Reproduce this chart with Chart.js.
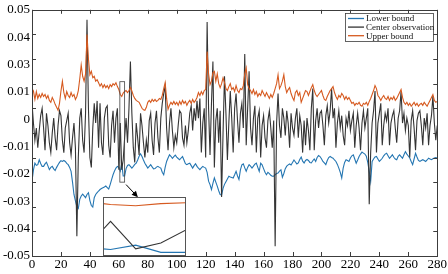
<!DOCTYPE html>
<html>
<head>
<meta charset="utf-8">
<script src="https://cdn.jsdelivr.net/npm/chart.js@4"></script>
<style>
  body { margin: 0; background: #fff; }
  #wrap { position: relative; width: 448px; height: 274px; }
  #inset { position: absolute; left: 103px; top: 197px; }
</style>
</head>
<body>
<div id="wrap">
  <canvas id="chart" width="448" height="274"></canvas>
  <canvas id="inset" width="83" height="59"></canvas>
</div>
<script>
// series, one value per time step 0..280
const lowerBound = [-.0196,-.015,-.0123,-.0132,-.0129,-.0109,-.0124,-.0136,-.0136,-.0126,
  -.0119,-.0134,-.0149,-.014,-.0136,-.0146,-.0153,-.014,-.0129,-.012,
  -.0113,-.0116,-.0112,-.0116,-.0124,-.0129,-.014,-.0156,-.02,-.025,
  -.0276,-.03,-.0307,-.027,-.0256,-.0249,-.0256,-.0263,-.025,-.0243,
  -.0275,-.0295,-.0301,-.0263,-.025,-.0243,-.0236,-.023,-.0226,-.0223,
  -.022,-.0216,-.0222,-.0228,-.021,-.019,-.017,-.0155,-.0143,-.0136,
  -.014,-.0155,-.0125,-.0175,-.0175,-.0145,-.0132,-.0129,-.0136,-.0143,
  -.0136,-.0128,-.0123,-.011,-.0095,-.0085,-.0096,-.011,-.0123,-.0133,
  -.0143,-.0136,-.0129,-.0138,-.0146,-.0145,-.0139,-.0136,-.014,-.0143,
  -.016,-.017,-.014,-.0116,-.0102,-.0089,-.0095,-.0103,-.0096,-.009,
  -.0098,-.0104,-.0109,-.0102,-.0096,-.011,-.0125,-.0129,-.0125,-.0123,
  -.0133,-.0143,-.0133,-.0125,-.0136,-.0143,-.0149,-.0142,-.0136,-.014,
  -.0143,-.016,-.0196,-.021,-.023,-.0205,-.0183,-.02,-.0216,-.0235,
  -.025,-.0252,-.0225,-.0209,-.0198,-.0187,-.0176,-.0179,-.0181,-.0183,
  -.017,-.0156,-.0175,-.0189,-.015,-.013,-.0126,-.0142,-.0156,-.014,
  -.0129,-.0135,-.0143,-.0135,-.0127,-.0123,-.014,-.0156,-.0123,-.013,
  -.0145,-.016,-.017,-.016,-.0165,-.0172,-.0176,-.0176,-.017,-.0165,
  -.0163,-.0155,-.015,-.018,-.0165,-.0145,-.0135,-.013,-.0126,-.013,
  -.012,-.011,-.0118,-.0126,-.0122,-.0108,-.0098,-.0115,-.0122,-.0112,
  -.0108,-.0112,-.012,-.0122,-.0113,-.0106,-.0116,-.01,-.0092,-.0096,
  -.0105,-.0116,-.0122,-.0129,-.0112,-.01,-.0096,-.01,-.0103,-.011,
  -.0116,-.0128,-.0143,-.016,-.0183,-.0143,-.012,-.0109,-.0112,-.0116,
  -.0102,-.0093,-.0089,-.0106,-.0123,-.011,-.0096,-.0086,-.0078,-.0082,
  -.0086,-.0095,-.012,-.0156,-.0196,-.0116,-.0106,-.0098,-.0096,-.0106,
  -.0116,-.011,-.0103,-.0093,-.0086,-.0083,-.0093,-.0103,-.0096,-.0089,
  -.0099,-.0106,-.0109,-.0095,-.0089,-.0096,-.0103,-.0089,-.0076,-.0086,
  -.0094,-.0102,-.0116,-.0129,-.0106,-.0083,-.0098,-.0112,-.0116,-.0112,
  -.0109,-.0112,-.0116,-.011,-.0103,-.0106,-.0109,-.0105,-.0102,-.01,-.0102];

const centerObs = [.012,.004,-.003,.002,-.006,.001,.007,.01,.002,-.007,
  .008,.003,-.004,-.008,0,.006,-.002,-.007,.003,.009,
  .007,-.003,-.008,.002,.005,.008,-.004,-.009,-.002,.004,
  -.006,-.042,-.01,.006,.01,-.003,-.008,.008,.046,.01,
  -.01,-.014,.002,.012,.004,.013,-.006,.012,-.004,-.009,
  .006,.01,.011,-.005,-.01,.003,.009,-.004,.006,.01,
  -.015,.004,-.015,-.011,-.002,.006,-.004,.01,.029,.008,
  -.006,-.012,.004,-.002,-.009,.008,.003,-.004,-.01,-.003,
  -.008,.005,.008,-.003,-.009,.004,.009,-.002,-.008,.006,
  .012,.016,.019,.002,-.007,.004,.01,.001,-.006,-.001,
  -.004,.003,.009,.008,-.002,-.005,.003,-.004,.001,.008,
  .011,.001,.01,.005,.013,.006,.014,-.008,.004,.01,
  -.01,.045,.01,-.009,.012,.029,-.014,.005,.01,-.004,
  .009,-.026,0,.023,.008,-.011,.004,.017,.006,-.008,
  .01,.016,.005,-.004,.008,.012,.002,.032,-.005,.01,
  .025,.002,-.005,.006,.011,-.008,.006,.009,-.01,.003,
  .007,-.002,-.006,.005,.009,.002,-.006,.005,-.046,.004,
  .016,.003,-.002,.01,.006,-.001,.009,.004,-.006,.008,
  .002,-.001,.006,.01,-.002,.007,.003,-.008,.005,-.005,
  .006,.001,-.007,.01,.018,-.007,.005,.01,.002,.008,
  .009,.003,-.005,.007,.011,.004,.009,.018,.006,.01,
  -.006,.004,.009,.002,.007,-.001,-.005,.006,.003,.009,
  .001,.005,.008,-.006,.003,.008,.002,-.007,.004,.009,
  .002,.006,.01,-.029,-.008,.004,.009,.017,-.008,.004,
  .008,.012,-.005,.003,.008,.005,.01,-.005,.004,.007,
  .009,.002,-.004,.006,.009,.017,.004,.008,.001,.006,
  .003,-.01,.005,.009,.002,-.007,.005,.008,.009,.003,
  -.005,.006,.002,.008,-.005,.003,.007,.015,.004,-.003,.003];

const upperBound = [.018,.017,.0136,.0168,.014,.0156,.0144,.016,.0148,.0156,
  .014,.0152,.0132,.0124,.0144,.0132,.0116,.0104,.0092,.012,
  .017,.021,.0164,.014,.0168,.0152,.0144,.0164,.0148,.0156,
  .0136,.0148,.0172,.022,.0276,.023,.021,.024,.04,.03,
  .0236,.025,.0224,.023,.021,.0216,.0204,.019,.02,.0184,
  .0196,.0184,.0192,.018,.0196,.0188,.02,.0194,.0204,.0188,
  .0176,.0156,.0148,.0162,.0168,.0172,.0164,.0172,.0184,.017,
  .0152,.014,.0132,.0128,.0124,.0112,.01,.0094,.0092,.0104,
  .0124,.0132,.0124,.0136,.0128,.0136,.0128,.0132,.014,.0136,
  .0152,.018,.0204,.014,.0096,.0112,.0124,.0116,.0128,.0116,
  .0124,.0112,.0128,.0116,.0132,.012,.0128,.0112,.0124,.0132,
  .012,.0136,.0124,.0132,.0144,.0164,.0152,.0168,.0156,.0172,
  .0176,.033,.024,.0196,.021,.0244,.025,.021,.024,.02,
  .0184,.02,.0224,.0204,.018,.0172,.0188,.02,.0176,.0184,
  .0168,.0192,.0172,.0164,.018,.0176,.0192,.024,.0264,.0196,
  .018,.0172,.016,.0176,.0156,.0168,.0148,.016,.0152,.0172,
  .016,.0148,.0164,.0152,.014,.0156,.0144,.016,.018,.02,
  .0236,.018,.0192,.021,.0236,.0188,.0164,.0176,.0184,.016,
  .0144,.0132,.0164,.0172,.0152,.0164,.0124,.014,.0156,.0172,
  .0168,.0152,.0168,.0184,.0196,.0172,.0156,.0148,.0156,.0164,
  .0172,.0152,.0136,.0132,.0148,.016,.0172,.018,.0188,.0164,
  .0148,.0136,.0152,.0144,.016,.0152,.0136,.0148,.0136,.0144,
  .0132,.012,.0124,.0112,.012,.0116,.0124,.0112,.0108,.012,
  .0116,.0124,.0112,.0128,.014,.0156,.0172,.0192,.018,.0152,
  .0144,.0132,.0144,.0152,.014,.0136,.0148,.0132,.0144,.0136,
  .0148,.0132,.014,.0152,.0164,.0176,.0144,.0124,.0116,.0124,
  .0112,.012,.0108,.0116,.0124,.0112,.012,.0108,.0116,.012,
  .0112,.0124,.0116,.0108,.012,.0132,.0144,.0156,.0132,.0124,.0128];

const seriesNames = ['Lower bound', 'Center observation', 'Upper bound'];
const seriesColors = ['rgb(36,118,178)', 'rgb(52,52,52)', 'rgb(214,90,32)'];
// the figure prints these labels evenly down the left side (0.02 is absent)
const yTickLabels = ['0.05', '0.04', '0.03', '0.01', '0', '-0.01', '-0.02', '-0.03', '-0.04', '-0.05'];
// zoomed window shown in the inset (time steps, value range)
const zoomX = [60.7, 64];
const zoomY = [-0.020, 0.0208];

const serif = "'Liberation Serif', 'Times New Roman', serif";
const toPoints = arr => arr.map((v, i) => ({ x: i, y: v }));

function makeDatasets(width) {
  return [lowerBound, centerObs, upperBound].map((arr, k) => ({
    label: seriesNames[k],
    data: toPoints(arr),
    borderColor: seriesColors[k],
    borderWidth: width,
    pointRadius: 0,
    tension: 0,
    order: 2 - k
  }));
}

// box, inward tick marks, legend, zoom marker and arrow
const axesBox = {
  id: 'axesBox',
  afterDatasetsDraw(chart) {
    const { ctx, chartArea: a, scales: { x, y } } = chart;
    ctx.save();
    ctx.strokeStyle = '#3c3c3c';
    ctx.lineWidth = 1;
    ctx.beginPath();
    for (let t = 0; t <= 280; t += 20) {
      const px = Math.round(x.getPixelForValue(t)) + 0.5;
      ctx.moveTo(px, a.bottom); ctx.lineTo(px, a.bottom - 4);
      ctx.moveTo(px, a.top); ctx.lineTo(px, a.top + 4);
    }
    for (let k = -5; k <= 5; k++) {
      const py = Math.round(y.getPixelForValue(k / 100)) + 0.5;
      ctx.moveTo(a.left, py); ctx.lineTo(a.left + 4, py);
      ctx.moveTo(a.right, py); ctx.lineTo(a.right - 4, py);
    }
    ctx.stroke();
    ctx.strokeRect(Math.round(a.left) + 0.5, Math.round(a.top) + 0.5,
      Math.round(a.right - a.left), Math.round(a.bottom - a.top));

    // zoom marker
    const rx1 = x.getPixelForValue(zoomX[0]), rx2 = x.getPixelForValue(zoomX[1]);
    const ry1 = y.getPixelForValue(zoomY[1]), ry2 = y.getPixelForValue(zoomY[0]);
    ctx.strokeStyle = '#444';
    ctx.lineWidth = 0.8;
    ctx.strokeRect(rx1, ry1, rx2 - rx1, ry2 - ry1);

    // arrow to the inset
    const ax1 = x.getPixelForValue(65), ay1 = y.getPixelForValue(-0.021);
    const ax2 = x.getPixelForValue(72.2), ay2 = y.getPixelForValue(-0.0255);
    ctx.strokeStyle = '#000';
    ctx.lineWidth = 1;
    ctx.beginPath(); ctx.moveTo(ax1, ay1); ctx.lineTo(ax2, ay2); ctx.stroke();
    const ang = Math.atan2(ay2 - ay1, ax2 - ax1);
    ctx.fillStyle = '#000';
    ctx.beginPath();
    ctx.moveTo(ax2 + 2 * Math.cos(ang), ay2 + 2 * Math.sin(ang));
    ctx.lineTo(ax2 - 4 * Math.cos(ang) + 3 * Math.sin(ang), ay2 - 4 * Math.sin(ang) - 3 * Math.cos(ang));
    ctx.lineTo(ax2 - 4 * Math.cos(ang) - 3 * Math.sin(ang), ay2 - 4 * Math.sin(ang) + 3 * Math.cos(ang));
    ctx.closePath(); ctx.fill();

    // legend
    const lx = 345, ly = 13, lw = 88, lh = 28;
    ctx.fillStyle = '#fff';
    ctx.fillRect(lx, ly, lw, lh);
    ctx.strokeStyle = '#3c3c3c';
    ctx.lineWidth = 0.8;
    ctx.strokeRect(lx + 0.5, ly + 0.5, lw, lh);
    ctx.font = '9px ' + serif;
    ctx.textBaseline = 'middle';
    seriesNames.forEach((name, k) => {
      const yy = ly + 5.5 + k * 8.6;
      ctx.strokeStyle = seriesColors[k];
      ctx.lineWidth = 1.3;
      ctx.beginPath(); ctx.moveTo(lx + 3, yy); ctx.lineTo(lx + 19, yy); ctx.stroke();
      ctx.fillStyle = '#111';
      ctx.fillText(name, lx + 21, yy + 0.5);
    });
    ctx.restore();
  }
};

new Chart(document.getElementById('chart'), {
  type: 'line',
  data: { datasets: makeDatasets(1.1) },
  options: {
    responsive: false,
    animation: false,
    devicePixelRatio: 1,
    layout: { padding: { top: 6, right: 10, left: 0, bottom: 0 } },
    plugins: { legend: { display: false }, tooltip: { enabled: false } },
    scales: {
      x: {
        type: 'linear', min: 0, max: 280,
        grid: { display: false, drawTicks: false }, border: { display: false },
        ticks: { stepSize: 20, color: '#000', padding: 1, maxRotation: 0, font: { family: serif, size: 13 } },
        afterFit: s => { s.height = 18; }
      },
      y: {
        type: 'linear', min: -0.05, max: 0.05,
        grid: { display: false, drawTicks: false }, border: { display: false },
        afterBuildTicks: axis => {
          const n = yTickLabels.length;
          axis.ticks = yTickLabels.map((_, i) => ({ value: -0.05 + i * 0.1 / (n - 1) }));
        },
        ticks: {
          autoSkip: false, color: '#000', padding: 2, font: { family: serif, size: 13 },
          callback: (v, i) => yTickLabels[yTickLabels.length - 1 - i]
        },
        afterFit: s => { s.width = 32; }
      }
    }
  },
  plugins: [axesBox]
});

// inset: magnified view of the marked window
const insetFrame = {
  id: 'insetFrame',
  beforeDraw(chart) {
    const { ctx, width, height } = chart;
    ctx.save(); ctx.fillStyle = '#fff'; ctx.fillRect(0, 0, width, height); ctx.restore();
  },
  afterDraw(chart) {
    const { ctx, width, height } = chart;
    ctx.save(); ctx.strokeStyle = '#555'; ctx.lineWidth = 1;
    ctx.strokeRect(0.5, 0.5, width - 1, height - 1); ctx.restore();
  }
};

new Chart(document.getElementById('inset'), {
  type: 'line',
  data: { datasets: makeDatasets(1.1) },
  options: {
    responsive: false,
    animation: false,
    devicePixelRatio: 1,
    layout: { padding: 0 },
    plugins: { legend: { display: false }, tooltip: { enabled: false } },
    scales: {
      x: { type: 'linear', min: zoomX[0], max: zoomX[1], display: false },
      y: { type: 'linear', min: zoomY[0], max: zoomY[1], display: false }
    }
  },
  plugins: [insetFrame]
});
</script>
</body>
</html>
